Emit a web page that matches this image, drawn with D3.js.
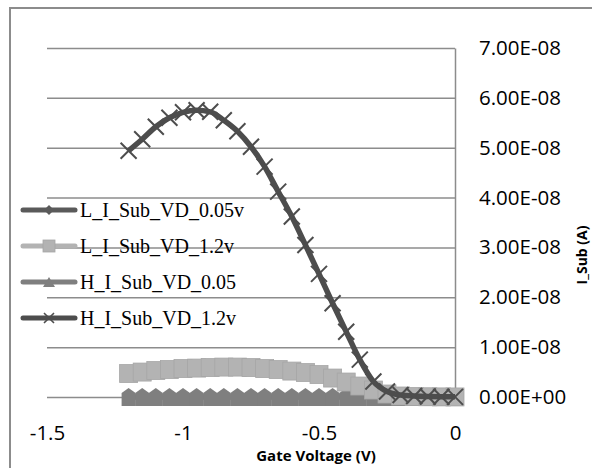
<!DOCTYPE html>
<html>
<head>
<meta charset="utf-8">
<script src="https://cdn.jsdelivr.net/npm/d3@7"></script>
<style>
  html, body { margin: 0; padding: 0; background: #fff; }
  svg { display: block; }
</style>
</head>
<body>
<script>
// ---------- data ----------
const gateVoltage = [-1.2, -1.15, -1.1, -1.05, -1.0, -0.95, -0.9, -0.85, -0.8, -0.75, -0.7, -0.65, -0.6,
                     -0.55, -0.5, -0.45, -0.4, -0.35, -0.3, -0.25, -0.2, -0.15, -0.1, -0.05, 0];
const seriesNames = ["L_I_Sub_VD_0.05v", "L_I_Sub_VD_1.2v", "H_I_Sub_VD_0.05", "H_I_Sub_VD_1.2v"];
const L_VD_005 = [0.001e-8, 0.001e-8, 0.001e-8, 0.001e-8, 0.001e-8, 0.001e-8, 0.001e-8, 0.001e-8, 0.001e-8,
                  0.001e-8, 0.001e-8, 0.001e-8, 0.001e-8, 0.001e-8, 0.001e-8, 0.001e-8, 0.001e-8, 0.001e-8,
                  0.001e-8, 0.001e-8, 0.0005e-8, 0.0005e-8, 0.0005e-8, 0.0005e-8, 0.0005e-8];
const L_VD_12 = [0.47e-8, 0.50e-8, 0.53e-8, 0.55e-8, 0.57e-8, 0.58e-8, 0.59e-8, 0.60e-8, 0.60e-8, 0.59e-8,
                 0.57e-8, 0.55e-8, 0.52e-8, 0.49e-8, 0.45e-8, 0.38e-8, 0.30e-8, 0.22e-8, 0.14e-8, 0.06e-8,
                 0.02e-8, 0.01e-8, 0.005e-8, 0.002e-8, 0.001e-8];
const H_VD_005 = [0.002e-8, 0.002e-8, 0.002e-8, 0.002e-8, 0.002e-8, 0.002e-8, 0.002e-8, 0.002e-8, 0.002e-8,
                  0.002e-8, 0.002e-8, 0.002e-8, 0.002e-8, 0.002e-8, 0.002e-8, 0.002e-8, 0.002e-8, 0.002e-8,
                  0.001e-8, 0.001e-8, 0.001e-8, 0.001e-8, 0.001e-8, 0.001e-8, 0.001e-8];
const H_VD_12 = [4.94e-8, 5.17e-8, 5.42e-8, 5.60e-8, 5.71e-8, 5.75e-8, 5.72e-8, 5.55e-8, 5.33e-8, 5.02e-8,
                 4.62e-8, 4.12e-8, 3.62e-8, 3.05e-8, 2.47e-8, 1.88e-8, 1.31e-8, 0.75e-8, 0.31e-8, 0.11e-8,
                 0.04e-8, 0.02e-8, 0.01e-8, 0.005e-8, 0.003e-8];
const xTicks = [-1.5, -1, -0.5, 0];
const xTickLabels = ["-1.5", "-1", "-0.5", "0"];
const yTicks = [0, 1e-8, 2e-8, 3e-8, 4e-8, 5e-8, 6e-8, 7e-8];
const yTickLabels = ["0.00E+00", "1.00E-08", "2.00E-08", "3.00E-08", "4.00E-08", "5.00E-08", "6.00E-08", "7.00E-08"];
const xTitle = "Gate Voltage (V)";
const yTitle = "I_Sub (A)";

// ---------- layout ----------
const W = 592, H = 468;
const plot = { left: 47, right: 455, top: 48, bottom: 397 };
const tickFont = "'Open Sans', sans-serif";
const gridColor = "#8c8c8c";

const svg = d3.select("body").append("svg").attr("width", W).attr("height", H);

// chart border
svg.append("rect").attr("x", 10).attr("y", 8).attr("width", 620).attr("height", 520)
  .attr("fill", "#fff").attr("stroke", "#8c8c8c").attr("stroke-width", 2);

const x = d3.scaleLinear().domain([-1.5, 0]).range([plot.left, plot.right]);
const y = d3.scaleLinear().domain([0, 7e-8]).range([plot.bottom, plot.top]);

// right axis with gridlines
const yAxis = svg.append("g").attr("transform", `translate(${plot.right},0)`)
  .call(d3.axisRight(y).tickValues(yTicks).tickFormat((d, i) => yTickLabels[i])
    .tickSize(-(plot.right - plot.left)).tickSizeOuter(0).tickPadding(24));
yAxis.select(".domain").attr("stroke", gridColor).attr("stroke-width", 1.5);
yAxis.selectAll(".tick line").attr("stroke", gridColor).attr("stroke-width", 1.5);
yAxis.selectAll(".tick text").attr("font-family", tickFont).attr("font-size", 20.5).attr("fill", "#000");

// bottom axis labels
const xAxis = svg.append("g").attr("transform", `translate(0,${plot.bottom})`)
  .call(d3.axisBottom(x).tickValues(xTicks).tickFormat((d, i) => xTickLabels[i]).tickSize(0).tickPadding(28));
xAxis.select(".domain").remove();
xAxis.selectAll(".tick text").attr("font-family", tickFont).attr("font-size", 20.5).attr("fill", "#000");

// axis titles
svg.append("text").attr("x", 316).attr("y", 461).attr("text-anchor", "middle")
  .attr("font-family", "'Open Sans', sans-serif").attr("font-weight", "bold").attr("font-size", 15)
  .text(xTitle);
svg.append("text").attr("transform", "translate(587,255) rotate(-90)").attr("text-anchor", "middle")
  .attr("font-family", "'Open Sans', sans-serif").attr("font-weight", "bold").attr("font-size", 14)
  .text(yTitle);

// ---------- series ----------
const styles = [
  { color: "#5a5a5a", marker: "diamond" },
  { color: "#b3b3b3", marker: "square" },
  { color: "#7f7f7f", marker: "triangle" },
  { color: "#4d4d4d", marker: "x" }
];
const seriesData = [L_VD_005, L_VD_12, H_VD_005, H_VD_12];
const line = d3.line().x(d => x(d[0])).y(d => y(d[1])).curve(d3.curveMonotoneX);

function drawMarker(g, type, color, big) {
  if (type === "diamond") {
    const s = big ? 6 : 5;
    g.append("path").attr("d", `M0,${-s}L${s},0L0,${s}L${-s},0Z`).attr("fill", color);
  } else if (type === "square") {
    const s = big ? 9 : 6;
    g.append("rect").attr("x", -s).attr("y", -s).attr("width", 2 * s).attr("height", 2 * s)
      .attr("fill", color).attr("stroke", "#a6a6a6").attr("stroke-width", 0.8);
  } else if (type === "triangle") {
    if (big) {
      g.append("path").attr("d", "M0,-9L7,-4L7,9L-7,9L-7,-4Z").attr("fill", color);
    } else {
      g.append("path").attr("d", "M0,-5L6,5L-6,5Z").attr("fill", color);
    }
  } else if (type === "x") {
    const s = big ? 8 : 5;
    g.append("path").attr("d", `M${-s},${-s}L${s},${s}M${-s},${s}L${s},${-s}`)
      .attr("stroke", color).attr("stroke-width", big ? 2 : 1.6).attr("fill", "none");
  }
}

// draw order: diamonds, triangles, squares, x
const order = [0, 2, 1, 3];
order.forEach(si => {
  const pts = gateVoltage.map((v, i) => [v, seriesData[si][i]]);
  const st = styles[si];
  const g = svg.append("g");
  g.append("path").datum(pts).attr("d", line).attr("fill", "none")
    .attr("stroke", st.color).attr("stroke-width", si === 3 ? 5.5 : 5).attr("stroke-linejoin", "round");
  pts.forEach(p => {
    const mg = g.append("g").attr("transform", `translate(${x(p[0])},${y(p[1])})`);
    drawMarker(mg, st.marker, st.color, true);
  });
});

// ---------- legend ----------
const legendY = [210, 246, 282, 318];
seriesNames.forEach((name, i) => {
  const st = styles[i];
  const g = svg.append("g").attr("transform", `translate(0,${legendY[i]})`);
  g.append("line").attr("x1", 23).attr("x2", 75).attr("y1", 0).attr("y2", 0)
    .attr("stroke", st.color).attr("stroke-width", 5).attr("stroke-linecap", "round");
  const mg = g.append("g").attr("transform", "translate(49,0)");
  drawMarker(mg, st.marker, st.color, false);
  g.append("text").attr("x", 80).attr("y", 7).attr("font-family", "'Liberation Serif', 'Times New Roman', serif")
    .attr("font-size", 20).attr("fill", "#000").text(name);
});
</script>
</body>
</html>
